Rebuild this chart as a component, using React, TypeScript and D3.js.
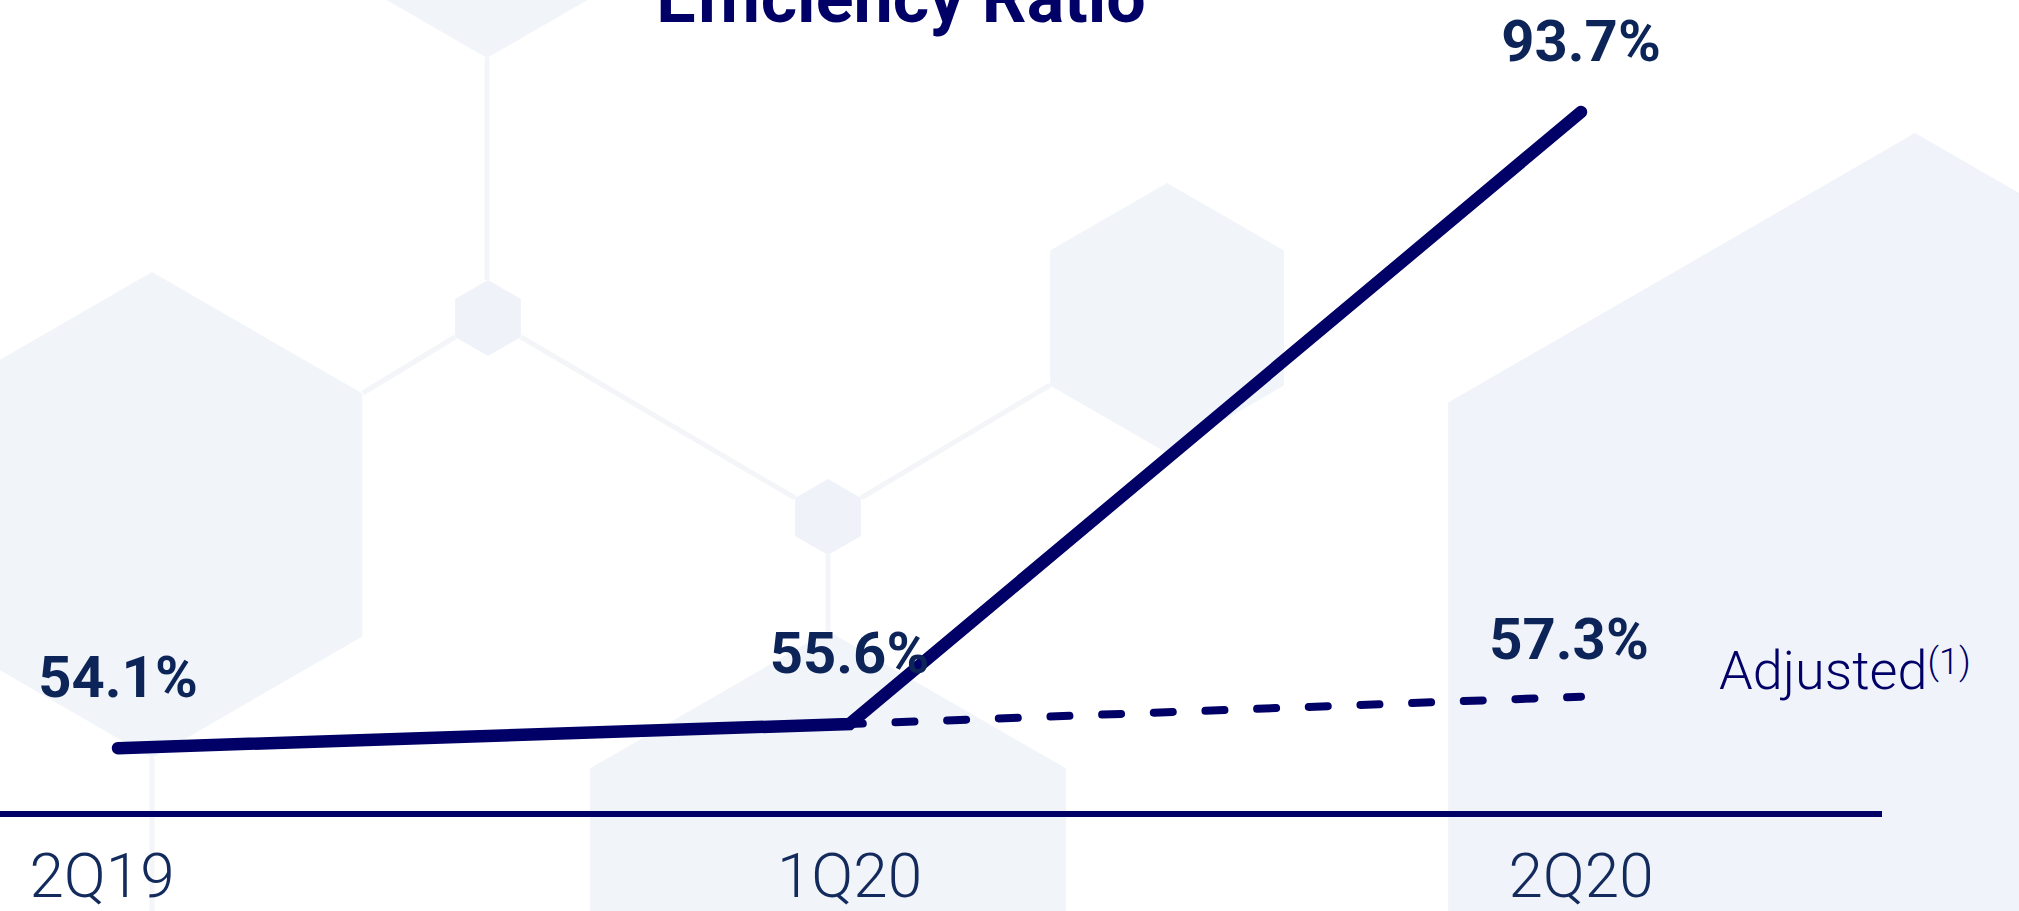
import React from "react";
import * as d3 from "d3";

// ---- data ----
const categories = ["2Q19", "1Q20", "2Q20"];
const reportedValues = [54.1, 55.6, 93.7];
const adjustedCategories = ["1Q20", "2Q20"];
const adjustedValues = [55.6, 57.3];
const titleText = "Efficiency Ratio";
const adjustedLabel = "Adjusted";
const adjustedNote = "(1)";
const yDomain = [50, 93.7];

// ---- decoration (background hexagons) ----
const hexes = [
  { cx: 152, cy: 515, r: 243, fill: "#f1f4f9" },
  { cx: 487, cy: -167, r: 225, fill: "#f1f4f9" },
  { cx: 488, cy: 318, r: 38, fill: "#eff2f9" },
  { cx: 828, cy: 517, r: 38, fill: "#eff2f9" },
  { cx: 1167, cy: 318, r: 135, fill: "#f1f4f9" },
  { cx: 1915, cy: 672, r: 539, fill: "#f0f3f9" },
  { cx: 828, cy: 906, r: 275, fill: "#f1f4f9" },
];
const connectors = [
  [487, 58, 487, 280],
  [455, 337, 363, 393],
  [521, 337, 795, 498],
  [861, 498, 1050, 385],
  [828, 555, 828, 631],
  [152, 758, 152, 911],
];

function hexPath(cx: number, cy: number, r: number) {
  const pts = d3.range(6).map((i) => {
    const a = (Math.PI / 3) * i - Math.PI / 2;
    return [cx + r * Math.cos(a), cy + r * Math.sin(a)] as [number, number];
  });
  return "M" + pts.map((p) => p.join(",")).join("L") + "Z";
}

export default function App() {
  const W = 2019;
  const H = 911;
  const x = d3.scalePoint<string>().domain(categories).range([118, 1581]);
  const y = d3.scaleLinear().domain(yDomain).range([814, 112]);
  const fmt = (v: number) => d3.format(".1f")(v) + "%";

  const line = d3
    .line<number>()
    .x((_, i) => x(categories[i]) as number)
    .y((d) => y(d));
  const adjLine = d3
    .line<number>()
    .x((_, i) => x(adjustedCategories[i]) as number)
    .y((d) => y(d));

  const navy = "#000066";
  const labelColor = "#0c2457";
  const font = "Roboto, 'Open Sans', sans-serif";

  return (
    <svg
      width={W}
      height={H}
      style={{ position: "absolute", left: 0, top: 0, background: "#ffffff" }}
    >
      <g>
        {connectors.map((c, i) => (
          <line
            key={"c" + i}
            x1={c[0]}
            y1={c[1]}
            x2={c[2]}
            y2={c[3]}
            stroke="#f4f5f8"
            strokeWidth={5}
          />
        ))}
        {hexes.map((h, i) => (
          <path key={"h" + i} d={hexPath(h.cx, h.cy, h.r)} fill={h.fill} />
        ))}
      </g>

      <text
        x={901}
        y={22}
        textAnchor="middle"
        fontFamily={font}
        fontWeight={700}
        fontSize={70}
        fill={navy}
      >
        {titleText}
      </text>

      {/* axis baseline */}
      <line
        x1={0}
        x2={1882}
        y1={y(yDomain[0])}
        y2={y(yDomain[0])}
        stroke={navy}
        strokeWidth={6}
      />

      {/* adjusted dashed line */}
      <path
        d={adjLine(adjustedValues) as string}
        fill="none"
        stroke={navy}
        strokeWidth={8}
        strokeDasharray="19 32.7"
        strokeDashoffset={5.7}
        strokeLinecap="round"
      />

      {/* reported line */}
      <path
        d={line(reportedValues) as string}
        fill="none"
        stroke={navy}
        strokeWidth={12.5}
        strokeLinecap="round"
        strokeLinejoin="miter"
      />

      {/* value labels */}
      {reportedValues.map((v, i) => (
        <text
          key={"v" + i}
          x={x(categories[i]) as number}
          y={y(v) - 51}
          textAnchor="middle"
          fontFamily={font}
          fontWeight={700}
          fontSize={58}
          fill={labelColor}
        >
          {fmt(v)}
        </text>
      ))}
      {adjustedValues.map((v, i) =>
        i === 0 ? null : (
          <text
            key={"a" + i}
            x={(x(adjustedCategories[i]) as number) - 12}
            y={y(v) - 38}
            textAnchor="middle"
            fontFamily={font}
            fontWeight={700}
            fontSize={58}
            fill={labelColor}
          >
            {fmt(v)}
          </text>
        )
      )}

      <text
        x={1719}
        y={689}
        fontFamily={font}
        fontWeight={300}
        fontSize={54}
        fill={navy}
      >
        {adjustedLabel}
        <tspan fontSize={36} dy={-15}>
          {adjustedNote}
        </tspan>
      </text>

      {/* category labels */}
      {categories.map((c, i) => (
        <text
          key={"k" + i}
          x={(x(c) as number) + (i === 0 ? -16 : 0)}
          y={897}
          textAnchor="middle"
          fontFamily={font}
          fontWeight={300}
          fontSize={62}
          fill="#132a5c"
        >
          {c}
        </text>
      ))}
    </svg>
  );
}
